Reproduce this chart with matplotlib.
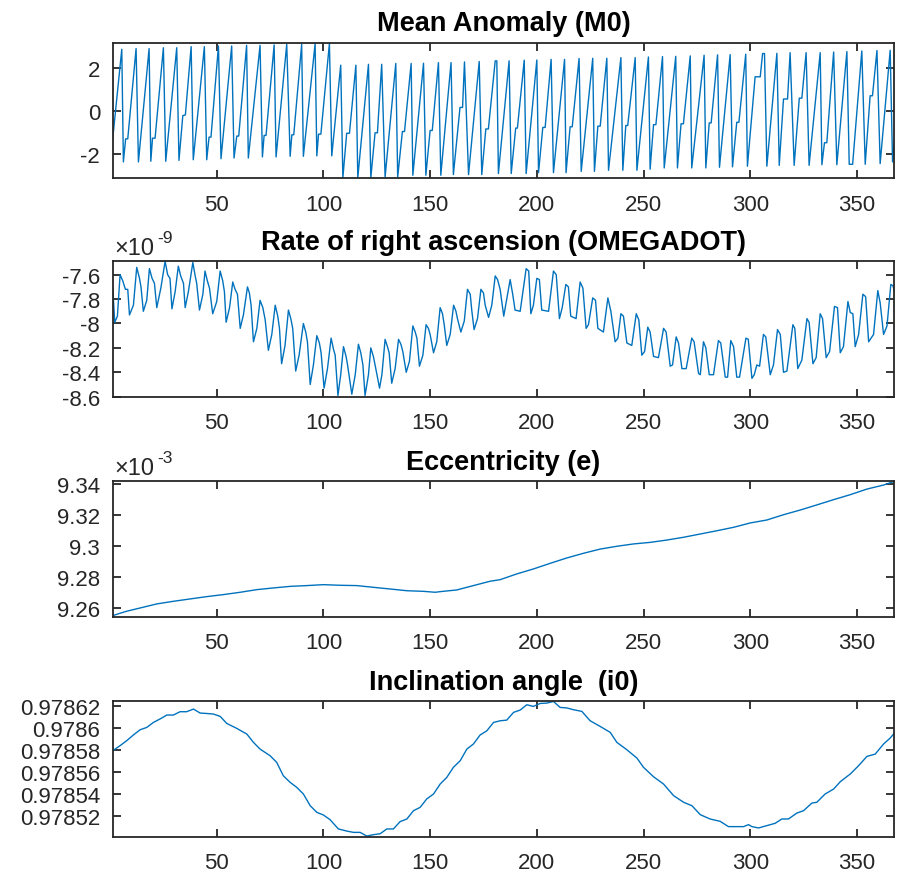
import matplotlib
matplotlib.use("Agg")
import matplotlib.pyplot as plt
import numpy as np
from matplotlib.ticker import FuncFormatter

plt.rcParams['font.family'] = ['Liberation Sans', 'DejaVu Sans']
plt.rcParams['axes.unicode_minus'] = False

# Mean anomaly M0 (rad) - vertices
m0_day = [1.25, 5.5, 6.25, 7.3, 8.3, 12.2, 13.3, 18.3, 19.1, 19.9, 21.1, 25.0, 26.1, 31.25, 32.3, 34.1,
          35.3, 38.0, 39.0, 44.2, 45.3, 46.4, 47.3, 50.8, 52.0, 57.0, 58.1, 59.4, 60.3, 64.0, 64.8, 70.3,
          71.4, 72.2, 73.1, 76.9, 77.8, 82.8, 84.4, 85.2, 86.1, 89.8, 90.6, 96.1, 96.9, 97.7, 98.8, 102.8,
          103.9, 108.1, 109.1, 110.9, 112.2, 115.2, 116.1, 121.1, 122.2, 124.2, 125.3, 127.3, 128.9, 133.9,
          134.8, 137.0, 138.0, 141.1, 141.9, 146.9, 148.0, 150.0, 151.0, 153.9, 155.0, 159.8, 160.9, 164.0,
          165.2, 166.1, 168.0, 173.0, 174.2, 176.1, 177.3, 180.5, 181.25, 182.0, 187.0, 188.0, 190.1, 190.9,
          194.1, 195.0, 200.0, 200.8, 202.8, 203.9, 206.7, 207.8, 213.0, 213.7, 215.6, 216.6, 219.8, 220.8,
          226.2, 227.0, 228.6, 229.7, 232.8, 233.6, 239.4, 240.3, 241.7, 242.6, 246.1, 246.9, 252.3, 253.1,
          254.7, 255.8, 258.9, 259.7, 265.1, 265.9, 267.6, 268.7, 271.9, 272.6, 278.4, 279.2, 280.8, 281.7,
          284.7, 285.6, 290.6, 291.7, 293.7, 294.7, 297.9, 298.7, 302.3, 304.7, 305.8, 306.7, 307.8, 312.5,
          313.6, 315.6, 317.5, 318.7, 320.6, 323.0, 324.2, 326.2, 327.6, 332.8, 333.6, 334.8, 335.9, 339.1,
          340.6, 345.3, 346.4, 348.0, 352.3, 353.9, 356.2, 357.3, 359.4, 360.9, 365.6, 366.7, 367.6]
m0_val = [-1.31, 2.85, -2.38, -1.31, -1.31, 2.88, -2.38, 2.88, -2.35, -1.28, -1.28, 2.92, -2.35, 2.92, -2.31, -0.23,
          -0.2, 2.97, -2.28, 2.97, -2.28, -1.23, -1.23, 3.0, -2.23, 3.0, -2.2, -1.18, -1.18, 3.03, -2.2, 3.03,
          -2.15, -1.15, -1.15, 3.05, -2.15, 3.08, -2.12, -1.12, -1.12, 3.08, -2.12, 3.11, -2.1, -1.09, -1.09, 3.12,
          -2.1, 2.11, -3.12, -1.05, -1.05, 2.11, -3.12, 2.15, -3.12, -1.03, -1.03, 2.15, -3.08, 2.19,
          -3.08, -0.97, -0.97, 2.19, -3.0, 2.2, -3.0, -0.92, -0.92, 2.23, -3.0, 2.23, -2.97, 0.15,
          0.15, 2.26, -2.97, 2.28, -2.97, -0.85, -0.85, 2.31, 2.31, -2.92, 2.31, -2.92, -0.81, -0.81,
          2.34, -2.92, 2.35, -2.88, -0.78, -0.78, 2.38, -2.88, 2.38, -2.88, -0.75, -0.75, 2.42, -2.82,
          2.43, -2.82, -0.72, -0.72, 2.43, -2.77, 2.46, -2.77, -0.69, -0.69, 2.46, -2.77, 2.49, -2.72,
          -0.65, -0.65, 2.51, -2.66, 2.52, -2.66, -0.61, -0.61, 2.54, -2.66, 2.57, -2.66, -0.57, -0.57,
          2.59, -2.63, 2.6, -2.61, -0.54, -0.54, 2.62, -2.58, 1.57, 1.57, 2.65, 2.65, -2.58, 2.66,
          -2.54, 0.54, 0.54, 2.69, -2.54, 0.58, 0.58, 2.69, -2.54, 2.69, -2.51, -1.49, -1.49, 2.72,
          -2.51, 2.74, -2.49, -2.49, 2.77, -2.49, 0.69, 0.69, 2.79, -2.46, 2.8, -2.38, -1.38]

# Rate of right ascension OMEGADOT (x 1e-9 rad/s)
od_day = [1.3, 2.2, 3.45, 4.7, 5.95, 7.2, 8.3, 9.1, 10.95, 12.5, 13.8, 14.5, 15.6, 17.2, 18.45, 19.7, 20.8,
          21.9, 23.8, 25.8, 27.0, 28.1, 29.0, 30.5, 32.0, 33.1, 34.4, 35.2, 36.7, 38.8, 39.9, 40.6, 41.9,
          43.5, 44.5, 45.6, 46.6, 48.1, 50.0, 51.6, 52.8, 53.6, 54.4, 56.0, 57.5, 58.6, 59.7, 61.0, 62.5,
          64.4, 65.3, 66.1, 67.2, 68.8, 70.3, 71.6, 72.7, 74.2, 75.8, 77.4, 78.6, 79.4, 80.4, 82.0, 83.6,
          84.7, 85.6, 87.0, 88.6, 90.6, 91.7, 92.5, 93.8, 95.3, 96.9, 98.1, 98.9, 100.3, 101.9, 103.6, 104.7,
          105.5, 106.8, 108.1, 109.4, 110.6, 111.3, 113.3, 114.9, 116.4, 117.5, 118.5, 119.5, 121.1, 122.2,
          123.4, 124.2, 126.3, 127.4, 128.9, 130.0, 130.8, 132.0, 133.6, 135.2, 136.3, 137.2, 138.8, 140.3,
          141.9, 143.0, 143.8, 145.0, 146.6, 148.1, 149.2, 150.0, 151.6, 153.1, 154.7, 155.8, 156.6, 157.8,
          159.4, 161.0, 162.1, 162.8, 164.4, 166.0, 167.5, 168.8, 169.5, 170.6, 172.2, 173.8, 175.0, 175.8,
          177.4, 178.9, 180.5, 181.6, 182.8, 184.5, 187.5, 188.7, 189.8, 192.2, 195.0, 196.2, 197.2, 198.4,
          200.0, 201.2, 202.3, 205.5, 207.8, 209.1, 210.6, 211.9, 213.6, 214.8, 215.9, 218.4, 220.3, 221.6,
          223.1, 224.2, 226.2, 227.5, 228.6, 231.2, 233.3, 234.7, 236.7, 238.0, 239.4, 240.6, 242.2, 244.5,
          246.6, 247.8, 249.2, 250.5, 252.0, 253.1, 254.7, 257.0, 259.4, 260.6, 262.5, 263.6, 265.3, 266.4,
          268.0, 270.0, 272.6, 273.7, 275.8, 276.6, 278.1, 279.2, 280.8, 282.8, 285.1, 286.2, 288.3, 289.4,
          290.9, 292.2, 293.7, 295.0, 298.0, 299.1, 300.8, 301.9, 303.1, 304.4, 306.2, 307.3, 309.4, 310.9,
          312.8, 314.1, 315.6, 317.2, 320.0, 320.9, 322.3, 324.2, 326.6, 327.6, 329.4, 330.9, 332.8, 333.9,
          335.6, 337.2, 339.5, 340.9, 342.2, 343.7, 345.8, 346.9, 348.1, 349.2, 350.8, 352.8, 354.1, 355.5,
          357.8, 359.8, 360.9, 362.5, 364.1, 365.9, 366.9, 367.6]
od_val = [-7.72, -7.99, -7.94, -7.60, -7.65, -7.72, -7.72, -7.93, -7.85, -7.54, -7.63, -7.70, -7.90, -7.81, -7.55, -7.63, -7.67,
          -7.87, -7.71, -7.49, -7.60, -7.63, -7.88, -7.74, -7.53, -7.61, -7.67, -7.87, -7.74, -7.50, -7.61, -7.67, -7.89,
          -7.76, -7.57, -7.65, -7.71, -7.92, -7.82, -7.57, -7.65, -7.74, -7.99, -7.87, -7.66, -7.72, -7.76, -8.04, -7.93,
          -7.70, -7.75, -7.85, -8.15, -8.04, -7.81, -7.87, -7.97, -8.22, -8.09, -7.85, -7.94, -8.04, -8.33, -8.18, -7.89,
          -7.96, -8.04, -8.39, -8.26, -8.00, -8.07, -8.15, -8.50, -8.34, -8.10, -8.16, -8.24, -8.53, -8.37, -8.12, -8.21,
          -8.26, -8.59, -8.42, -8.19, -8.27, -8.34, -8.58, -8.42, -8.17, -8.24, -8.34, -8.59, -8.42, -8.20,
          -8.27, -8.34, -8.53, -8.42, -8.13, -8.19, -8.24, -8.49, -8.37, -8.13, -8.17, -8.23, -8.40, -8.31,
          -8.02, -8.07, -8.12, -8.35, -8.26, -8.01, -8.04, -8.09, -8.24, -8.15, -7.87, -7.92, -8.01, -8.18,
          -8.09, -7.85, -7.90, -7.96, -8.07, -7.98, -7.72, -7.76, -7.89, -8.05, -7.96, -7.72, -7.75, -7.85,
          -7.95, -7.85, -7.61, -7.64, -7.72, -7.94, -7.64, -7.76, -7.89, -7.90, -7.55, -7.57, -7.92, -7.85,
          -7.63, -7.64, -7.89, -7.90, -7.57, -7.60, -7.96, -7.87, -7.68, -7.70, -7.94, -7.96, -7.66, -7.71,
          -8.04, -8.01, -7.79, -7.81, -8.04, -8.07, -7.79, -7.90, -8.15, -8.12, -7.92, -7.94, -8.16, -8.18,
          -7.92, -7.97, -8.26, -8.23, -8.03, -8.07, -8.27, -8.28, -8.04, -8.07, -8.35, -8.34, -8.11, -8.16,
          -8.37, -8.37, -8.12, -8.15, -8.41, -8.42, -8.15, -8.20, -8.42, -8.42, -8.14, -8.16, -8.44, -8.44,
          -8.14, -8.19, -8.44, -8.44, -8.12, -8.13, -8.45, -8.42, -8.34, -8.35, -8.09, -8.11, -8.42, -8.34,
          -8.05, -8.09, -8.40, -8.39, -8.01, -8.04, -8.37, -8.30, -7.96, -7.99, -8.33, -8.28, -7.92, -7.96,
          -8.28, -8.23, -7.86, -7.87, -8.24, -8.19, -7.82, -7.91, -7.92, -8.19, -8.09, -7.76, -7.78, -8.15,
          -8.09, -7.73, -7.83, -8.09, -8.02, -7.68, -7.69, -7.74]

# Eccentricity e (x 1e-3)
ecc_day = [1.3, 4.7, 7.8, 14.1, 21.9, 29.7, 37.5, 45.3, 53.1, 61.0, 68.8, 76.6, 84.4, 92.2, 100.0, 107.8,
           115.6, 123.4, 131.3, 139.1, 146.9, 152.4, 154.7, 162.5, 170.3, 178.1, 182.8, 190.6, 198.4, 206.2,
           214.1, 221.9, 229.7, 237.5, 245.3, 253.1, 260.9, 268.8, 276.6, 284.4, 292.2, 300.0, 307.8, 315.6,
           323.4, 331.2, 339.1, 346.9, 354.7, 362.5, 367.6]
ecc_val = [9.2551, 9.2566, 9.2579, 9.2600, 9.2626, 9.2643, 9.2658, 9.2673, 9.2686, 9.2701, 9.2718, 9.2729, 9.2739,
           9.2744, 9.2750, 9.2746, 9.2744, 9.2733, 9.2722, 9.2711, 9.2707, 9.2701, 9.2705, 9.2716, 9.2744, 9.2772,
           9.2782, 9.2819, 9.2851, 9.2887, 9.2922, 9.2952, 9.2979, 9.2997, 9.3012, 9.3022, 9.3037, 9.3055, 9.3076,
           9.3097, 9.3119, 9.3147, 9.3166, 9.3200, 9.3230, 9.3263, 9.3297, 9.3329, 9.3365, 9.3391, 9.3415]

# Inclination angle i0 (rad)
inc_day = [1.2, 4.7, 7.8, 10.9, 14.1, 17.2, 20.3, 23.4, 26.6, 29.7, 32.8, 35.9, 39.1, 42.2, 45.3, 48.4, 51.6,
           54.7, 59.4, 64.1, 67.2, 70.3, 75.0, 78.1, 81.2, 84.4, 87.5, 90.6, 93.8, 96.9, 100.0, 103.1, 107.0,
           110.9, 114.1, 117.2, 120.3, 123.4, 126.6, 129.7, 132.8, 135.9, 139.1, 142.2, 145.3, 148.4, 151.6,
           154.7, 157.8, 160.9, 164.1, 167.2, 170.3, 173.4, 176.6, 179.7, 182.8, 185.9, 189.1, 192.2, 195.3,
           198.4, 201.6, 204.7, 207.8, 210.9, 214.1, 217.2, 221.1, 225.0, 229.7, 234.4, 237.5, 242.2, 246.9,
           250.0, 254.7, 259.4, 264.1, 268.8, 272.7, 276.6, 281.2, 285.9, 289.8, 293.7, 296.9, 299.2, 300.8,
           303.9, 307.8, 311.7, 314.8, 317.9, 321.9, 325.0, 328.9, 331.2, 335.1, 339.1, 342.2, 346.9, 350.8,
           354.7, 358.6, 362.5, 365.6, 367.6]
inc_val = [0.9785793, 0.9785839, 0.9785884, 0.9785935, 0.9785983, 0.9786004, 0.9786049, 0.9786080, 0.9786116,
           0.9786116, 0.9786146, 0.9786146, 0.9786170, 0.9786134, 0.9786130, 0.9786125, 0.9786104, 0.9786040,
           0.9785995, 0.9785944, 0.9785869, 0.9785808, 0.9785748, 0.9785688, 0.9785567, 0.9785507, 0.9785462,
           0.9785402, 0.9785296, 0.9785236, 0.9785212, 0.9785170, 0.9785086, 0.9785067, 0.9785055, 0.9785055,
           0.9785022, 0.9785034, 0.9785043, 0.9785086, 0.9785086, 0.9785152, 0.9785176, 0.9785251, 0.9785281,
           0.9785357, 0.9785402, 0.9785492, 0.9785552, 0.9785643, 0.9785703, 0.9785808, 0.9785854, 0.9785935,
           0.9785974, 0.9786049, 0.9786064, 0.9786070, 0.9786140, 0.9786161, 0.9786209, 0.9786194, 0.9786221,
           0.9786224, 0.9786239, 0.9786185, 0.9786180, 0.9786164, 0.9786149, 0.9786064, 0.9786013, 0.9785959,
           0.9785869, 0.9785802, 0.9785727, 0.9785643, 0.9785558, 0.9785492, 0.9785387, 0.9785327, 0.9785296,
           0.9785215, 0.9785176, 0.9785155, 0.9785107, 0.9785107, 0.9785107, 0.9785125, 0.9785107, 0.9785095,
           0.9785116, 0.9785137, 0.9785176, 0.9785176, 0.9785230, 0.9785251, 0.9785320, 0.9785327, 0.9785402,
           0.9785447, 0.9785513, 0.9785583, 0.9785658, 0.9785742, 0.9785763, 0.9785854, 0.9785908, 0.9785953]

xticks = [50, 100, 150, 200, 250, 300, 350]

line_col = '#0072BD'
ax_col = '#262626'

fig = plt.figure(figsize=(9.09, 8.79), dpi=100)

def make_axes(bottom):
    ax = fig.add_axes([0.124, bottom, 0.86, 0.154])
    for s in ax.spines.values():
        s.set_color(ax_col)
        s.set_linewidth(1.3)
    ax.tick_params(direction='in', top=True, right=True, length=5.8, width=1.3,
                   color=ax_col, labelcolor=ax_col, labelsize=16)
    ax.tick_params(axis='x', pad=11)
    ax.tick_params(axis='y', pad=9)
    ax.set_xlim(1.25, 367.6)
    ax.set_xticks(xticks)
    ax.yaxis.set_major_formatter(FuncFormatter(lambda v, p: '%g' % round(v, 6)))
    return ax

def exponent(ax, power):
    # MATLAB-style "x10^n" label above the y axis
    ax.annotate('\u00d710', xy=(0, 1), xycoords='axes fraction', xytext=(1, 2),
                textcoords='offset points', ha='left', va='bottom', fontsize=17, color=ax_col)
    ax.annotate(power, xy=(0, 1), xycoords='axes fraction', xytext=(32, 12),
                textcoords='offset points', ha='left', va='bottom', fontsize=12.5, color=ax_col)

# Panel 1: mean anomaly
ax1 = make_axes(0.796)
ax1.plot(m0_day, m0_val, color=line_col, lw=1.0)
ax1.set_ylim(-np.pi, np.pi)
ax1.set_yticks([-2, 0, 2])
ax1.set_title('Mean Anomaly (M0)', fontsize=19.5, fontweight='bold', pad=9)

# Panel 2: OMEGADOT
ax2 = make_axes(0.5476)
ax2.plot(od_day, od_val, color=line_col, lw=1.0)
ax2.set_ylim(-8.6, -7.49)
ax2.set_yticks([-8.6, -8.4, -8.2, -8.0, -7.8, -7.6])
ax2.set_title('Rate of right ascension (OMEGADOT)', fontsize=19.5, fontweight='bold', pad=9)
exponent(ax2, '-9')

# Panel 3: eccentricity
ax3 = make_axes(0.2973)
ax3.plot(ecc_day, ecc_val, color=line_col, lw=1.0)
ax3.set_ylim(9.2544, 9.3415)
ax3.set_yticks([9.26, 9.28, 9.30, 9.32, 9.34])
ax3.set_title('Eccentricity (e)', fontsize=19.5, fontweight='bold', pad=9)
exponent(ax3, '-3')

# Panel 4: inclination
ax4 = make_axes(0.047)
ax4.plot(inc_day, inc_val, color=line_col, lw=1.0)
ax4.set_ylim(0.9785016, 0.978624)
ax4.set_yticks([0.97852, 0.97854, 0.97856, 0.97858, 0.97860, 0.97862])
ax4.set_title('Inclination angle  (i0)', fontsize=19.5, fontweight='bold', pad=9)

plt.savefig('out.png', dpi=100)
